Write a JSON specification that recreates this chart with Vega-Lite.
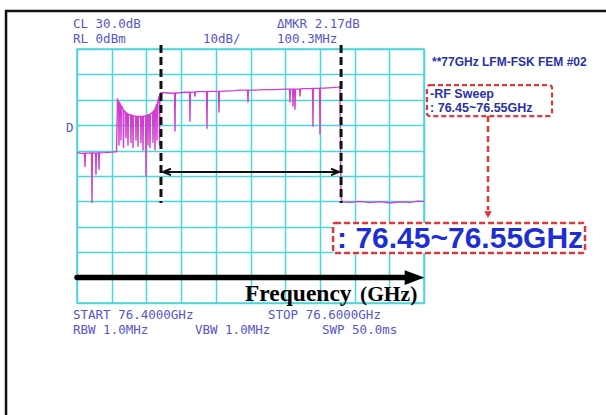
{
  "$schema": "https://vega.github.io/schema/vega-lite/v6.json",
  "width": 347,
  "height": 254,
  "autosize": "none",
  "padding": {"left": 77, "top": 49, "right": 182, "bottom": 112},
  "background": "white",
  "config": {
    "view": {"stroke": "#4cd5dc", "strokeWidth": 1.5},
    "text": {"font": "Liberation Sans"}
  },
  "datasets": {
    "frame": [{"f": 76.3591, "f2": 76.7245, "dB": 15, "dB2": -154}],
    "trace": [
      {"f": 76.40000, "dB": -40.8}, {"f": 76.40346, "dB": -41.2}, {"f": 76.40438, "dB": -41.0}, {"f": 76.40461, "dB": -46.4}, {"f": 76.40484, "dB": -41.0},
      {"f": 76.40634, "dB": -41.0}, {"f": 76.40842, "dB": -40.9}, {"f": 76.40865, "dB": -60.6}, {"f": 76.40888, "dB": -40.9},
      {"f": 76.41072, "dB": -41.0}, {"f": 76.41095, "dB": -49.5}, {"f": 76.41118, "dB": -41.0},
      {"f": 76.41245, "dB": -40.9}, {"f": 76.41268, "dB": -47.5}, {"f": 76.41291, "dB": -40.9},
      {"f": 76.41614, "dB": -40.8}, {"f": 76.42017, "dB": -40.6}, {"f": 76.42277, "dB": -40.4}, {"f": 76.42334, "dB": -19.9},
      {"f": 76.42398, "dB": -20.6}, {"f": 76.42421, "dB": -38}, {"f": 76.42444, "dB": -21.0},
      {"f": 76.42513, "dB": -22.0}, {"f": 76.42536, "dB": -36}, {"f": 76.42559, "dB": -22.4},
      {"f": 76.42657, "dB": -23.8}, {"f": 76.42680, "dB": -39}, {"f": 76.42703, "dB": -24.2},
      {"f": 76.42801, "dB": -24.9}, {"f": 76.42824, "dB": -35}, {"f": 76.42847, "dB": -25.1},
      {"f": 76.42916, "dB": -25.5}, {"f": 76.42939, "dB": -38}, {"f": 76.42962, "dB": -25.7},
      {"f": 76.43089, "dB": -26.0}, {"f": 76.43112, "dB": -37}, {"f": 76.43135, "dB": -26.0},
      {"f": 76.43205, "dB": -26.3}, {"f": 76.43228, "dB": -39}, {"f": 76.43251, "dB": -26.3},
      {"f": 76.43378, "dB": -26.5}, {"f": 76.43401, "dB": -36}, {"f": 76.43424, "dB": -26.5},
      {"f": 76.43493, "dB": -26.6}, {"f": 76.43516, "dB": -38.5}, {"f": 76.43539, "dB": -26.6},
      {"f": 76.43666, "dB": -26.6}, {"f": 76.43689, "dB": -37}, {"f": 76.43712, "dB": -26.6},
      {"f": 76.43781, "dB": -26.5}, {"f": 76.43804, "dB": -40}, {"f": 76.43827, "dB": -26.5},
      {"f": 76.43954, "dB": -26.3}, {"f": 76.43977, "dB": -50.3}, {"f": 76.44000, "dB": -26.3},
      {"f": 76.44069, "dB": -26.0}, {"f": 76.44092, "dB": -38}, {"f": 76.44115, "dB": -26.0},
      {"f": 76.44184, "dB": -25.7}, {"f": 76.44207, "dB": -39}, {"f": 76.44230, "dB": -25.6},
      {"f": 76.44357, "dB": -24.9}, {"f": 76.44380, "dB": -37}, {"f": 76.44403, "dB": -24.7},
      {"f": 76.44473, "dB": -23.9}, {"f": 76.44496, "dB": -40}, {"f": 76.44519, "dB": -23.6},
      {"f": 76.44588, "dB": -21.7}, {"f": 76.44611, "dB": -36}, {"f": 76.44634, "dB": -21.3},
      {"f": 76.44732, "dB": -18.7}, {"f": 76.44755, "dB": -38}, {"f": 76.44778, "dB": -18.3},
      {"f": 76.44813, "dB": -17.5}, {"f": 76.44842, "dB": -17.2},
      {"f": 76.45072, "dB": -17.2}, {"f": 76.45360, "dB": -17.4},
      {"f": 76.45625, "dB": -17.3}, {"f": 76.45648, "dB": -32.5}, {"f": 76.45671, "dB": -17.3},
      {"f": 76.45937, "dB": -17.2}, {"f": 76.46225, "dB": -17.0},
      {"f": 76.46490, "dB": -17.0}, {"f": 76.46513, "dB": -28.6}, {"f": 76.46536, "dB": -17.0},
      {"f": 76.46778, "dB": -16.9}, {"f": 76.46801, "dB": -18.7}, {"f": 76.46824, "dB": -16.9},
      {"f": 76.47089, "dB": -16.8},
      {"f": 76.47469, "dB": -16.8}, {"f": 76.47493, "dB": -31.4}, {"f": 76.47516, "dB": -16.8},
      {"f": 76.47781, "dB": -16.7},
      {"f": 76.48161, "dB": -16.7}, {"f": 76.48184, "dB": -25.0}, {"f": 76.48207, "dB": -16.7},
      {"f": 76.48530, "dB": -16.6}, {"f": 76.49107, "dB": -16.4}, {"f": 76.49395, "dB": -16.2},
      {"f": 76.49833, "dB": -16.2}, {"f": 76.49856, "dB": -21.1}, {"f": 76.49879, "dB": -16.2},
      {"f": 76.50259, "dB": -16.2}, {"f": 76.50836, "dB": -16.0}, {"f": 76.51412, "dB": -16.0}, {"f": 76.51988, "dB": -15.8},
      {"f": 76.52253, "dB": -15.8}, {"f": 76.52277, "dB": -21.1}, {"f": 76.52300, "dB": -15.8},
      {"f": 76.52426, "dB": -15.8}, {"f": 76.52450, "dB": -22.7}, {"f": 76.52473, "dB": -15.8},
      {"f": 76.52542, "dB": -15.8}, {"f": 76.52565, "dB": -23.9}, {"f": 76.52588, "dB": -15.8},
      {"f": 76.52830, "dB": -15.7}, {"f": 76.52853, "dB": -18.7}, {"f": 76.52876, "dB": -15.7},
      {"f": 76.53141, "dB": -15.6},
      {"f": 76.53579, "dB": -15.5}, {"f": 76.53602, "dB": -30.6}, {"f": 76.53625, "dB": -15.5},
      {"f": 76.53983, "dB": -15.4}, {"f": 76.54006, "dB": -33.7}, {"f": 76.54029, "dB": -15.4},
      {"f": 76.54294, "dB": -15.4}, {"f": 76.54697, "dB": -15.2}, {"f": 76.55043, "dB": -15.0}, {"f": 76.55158, "dB": -14.8},
      {"f": 76.55187, "dB": -35.7}, {"f": 76.55216, "dB": -58.2}, {"f": 76.55274, "dB": -60.2},
      {"f": 76.55735, "dB": -60.4}, {"f": 76.56311, "dB": -60.0}, {"f": 76.56888, "dB": -60.5}, {"f": 76.57464, "dB": -60.1},
      {"f": 76.58040, "dB": -60.6}, {"f": 76.58617, "dB": -60.2}, {"f": 76.59193, "dB": -60.4}, {"f": 76.59654, "dB": -59.9}, {"f": 76.60000, "dB": -60.0}
    ],
    "markers": [
      {"f": 76.4484, "dB": 1.6, "dB2": -60.6},
      {"f": 76.5522, "dB": 1.6, "dB2": -60.6}
    ],
    "span": [{"f": 76.4495, "f2": 76.5510, "dB": -48.4}],
    "spanLeft": [{"f": 76.45187, "dB": -48.4}],
    "spanRight": [{"f": 76.54870, "dB": -48.4}],
    "freqAxis": [{"f": 76.4000, "f2": 76.5902, "dB": -90.0}],
    "freqHead": [{"f": 76.5945, "dB": -90.0}],
    "smallBox": [{"f": 76.6017, "f2": 76.6738, "dB": -14.2, "dB2": -26.4}],
    "bigBox": [{"f": 76.5476, "f2": 76.6928, "dB": -68.5, "dB2": -80.3}],
    "pointer": [{"f": 76.6369, "dB": -26.4, "dB2": -63.5}],
    "pointerHead": [{"f": 76.6369, "dB": -65.2}],
    "status": [
      {"f": 76.3977, "dB": 9.65, "label": "CL 30.0dB"},
      {"f": 76.3977, "dB": 3.75, "label": "RL 0dBm"},
      {"f": 76.4726, "dB": 3.75, "label": "10dB/"},
      {"f": 76.5153, "dB": 9.65, "label": "ΔMKR 2.17dB"},
      {"f": 76.5153, "dB": 3.75, "label": "100.3MHz"},
      {"f": 76.3937, "dB": -31.1, "label": "D"},
      {"f": 76.3977, "dB": -104.6, "label": "START 76.4000GHz"},
      {"f": 76.5101, "dB": -104.6, "label": "STOP 76.6000GHz"},
      {"f": 76.3977, "dB": -110.5, "label": "RBW 1.0MHz"},
      {"f": 76.4680, "dB": -110.5, "label": "VBW 1.0MHz"},
      {"f": 76.5412, "dB": -110.5, "label": "SWP 50.0ms"}
    ],
    "device": [{"f": 76.6046, "dB": -5.1, "label": "**77GHz LFM-FSK FEM #02"}],
    "sweepNote": [
      {"f": 76.6035, "dB": -17.7, "label": "-RF Sweep"},
      {"f": 76.6035, "dB": -23.2, "label": ": 76.45~76.55GHz"}
    ],
    "sweepBig": [{"f": 76.5499, "dB": -74.8, "label": ": 76.45~76.55GHz"}],
    "freqWord": [{"f": 76.4968, "dB": -99.4, "label": "Frequency"}],
    "freqUnit": [{"f": 76.5631, "dB": -99.4, "label": "(GHz)"}]
  },
  "encoding": {
    "x": {
      "field": "f", "type": "quantitative",
      "scale": {"domain": [76.4, 76.6], "nice": false, "zero": false},
      "axis": {"values": [76.40, 76.42, 76.44, 76.46, 76.48, 76.50, 76.52, 76.54, 76.56, 76.58, 76.60],
               "grid": true, "gridColor": "#4cd5dc", "gridWidth": 1.5, "gridOpacity": 1,
               "labels": false, "ticks": false, "domain": false, "title": null}
    },
    "y": {
      "field": "dB", "type": "quantitative",
      "scale": {"domain": [-100, 0], "nice": false, "zero": false},
      "axis": {"values": [0, -10, -20, -30, -40, -50, -60, -70, -80, -90, -100],
               "grid": true, "gridColor": "#4cd5dc", "gridWidth": 1.5, "gridOpacity": 1,
               "labels": false, "ticks": false, "domain": false, "title": null}
    }
  },
  "layer": [
    {
      "data": {"name": "frame"},
      "mark": {"type": "rect", "fill": null, "stroke": "#111111", "strokeWidth": 2.5},
      "encoding": {"x2": {"field": "f2"}, "y2": {"field": "dB2"}}
    },
    {
      "data": {"name": "trace"},
      "mark": {"type": "line", "color": "#d23ed2", "strokeWidth": 1.4, "interpolate": "linear"},
      "encoding": {}
    },
    {
      "data": {"name": "markers"},
      "mark": {"type": "rule", "color": "#111111", "strokeWidth": 3, "strokeDash": [8, 4]},
      "encoding": {"y2": {"field": "dB2"}}
    },
    {
      "data": {"name": "span"},
      "mark": {"type": "rule", "color": "#111111", "strokeWidth": 2},
      "encoding": {"x2": {"field": "f2"}}
    },
    {
      "data": {"name": "spanLeft"},
      "mark": {"type": "point", "shape": "M1,-0.8L-1,0L1,0.8", "size": 64, "filled": false, "stroke": "#111111", "strokeWidth": 2, "opacity": 1},
      "encoding": {}
    },
    {
      "data": {"name": "spanRight"},
      "mark": {"type": "point", "shape": "M-1,-0.8L1,0L-1,0.8", "size": 64, "filled": false, "stroke": "#111111", "strokeWidth": 2, "opacity": 1},
      "encoding": {}
    },
    {
      "data": {"name": "freqAxis"},
      "mark": {"type": "rule", "color": "#000000", "strokeWidth": 5.5, "strokeCap": "round"},
      "encoding": {"x2": {"field": "f2"}}
    },
    {
      "data": {"name": "freqHead"},
      "mark": {"type": "point", "shape": "M-1,-0.75L1,0L-1,0.75Z", "size": 380, "filled": true, "fill": "#000000", "opacity": 1},
      "encoding": {}
    },
    {
      "data": {"name": "smallBox"},
      "mark": {"type": "rect", "fill": "white", "stroke": "#e0353b", "strokeWidth": 2.2, "strokeDash": [5, 3], "cornerRadius": 3},
      "encoding": {"x2": {"field": "f2"}, "y2": {"field": "dB2"}}
    },
    {
      "data": {"name": "pointer"},
      "mark": {"type": "rule", "color": "#e0353b", "strokeWidth": 2.5, "strokeDash": [6, 4]},
      "encoding": {"y2": {"field": "dB2"}}
    },
    {
      "data": {"name": "pointerHead"},
      "mark": {"type": "point", "shape": "triangle-down", "size": 60, "filled": true, "fill": "#e0353b", "opacity": 1},
      "encoding": {}
    },
    {
      "data": {"name": "bigBox"},
      "mark": {"type": "rect", "fill": "white", "stroke": "#e0353b", "strokeWidth": 2.5, "strokeDash": [6, 3], "cornerRadius": 2},
      "encoding": {"x2": {"field": "f2"}, "y2": {"field": "dB2"}}
    },
    {
      "data": {"name": "status"},
      "mark": {"type": "text", "font": "DejaVu Sans Mono", "fontSize": 12.5, "color": "#5656c8", "align": "left", "baseline": "middle"},
      "encoding": {"text": {"field": "label"}}
    },
    {
      "data": {"name": "device"},
      "mark": {"type": "text", "font": "Liberation Sans", "fontWeight": "bold", "fontSize": 12, "color": "#2a32a6", "align": "left", "baseline": "middle"},
      "encoding": {"text": {"field": "label"}}
    },
    {
      "data": {"name": "sweepNote"},
      "mark": {"type": "text", "font": "Liberation Sans", "fontWeight": "bold", "fontSize": 12.5, "color": "#2a32a6", "align": "left", "baseline": "middle"},
      "encoding": {"text": {"field": "label"}}
    },
    {
      "data": {"name": "sweepBig"},
      "mark": {"type": "text", "font": "Liberation Sans", "fontWeight": "bold", "fontSize": 30, "color": "#1e2fd2", "align": "left", "baseline": "middle"},
      "encoding": {"text": {"field": "label"}}
    },
    {
      "data": {"name": "freqWord"},
      "mark": {"type": "text", "font": "Liberation Serif", "fontWeight": "bold", "fontSize": 23.5, "color": "#000000", "align": "left", "baseline": "alphabetic"},
      "encoding": {"text": {"field": "label"}}
    },
    {
      "data": {"name": "freqUnit"},
      "mark": {"type": "text", "font": "Liberation Serif", "fontWeight": "bold", "fontSize": 21.5, "color": "#000000", "align": "left", "baseline": "alphabetic"},
      "encoding": {"text": {"field": "label"}}
    }
  ]
}
